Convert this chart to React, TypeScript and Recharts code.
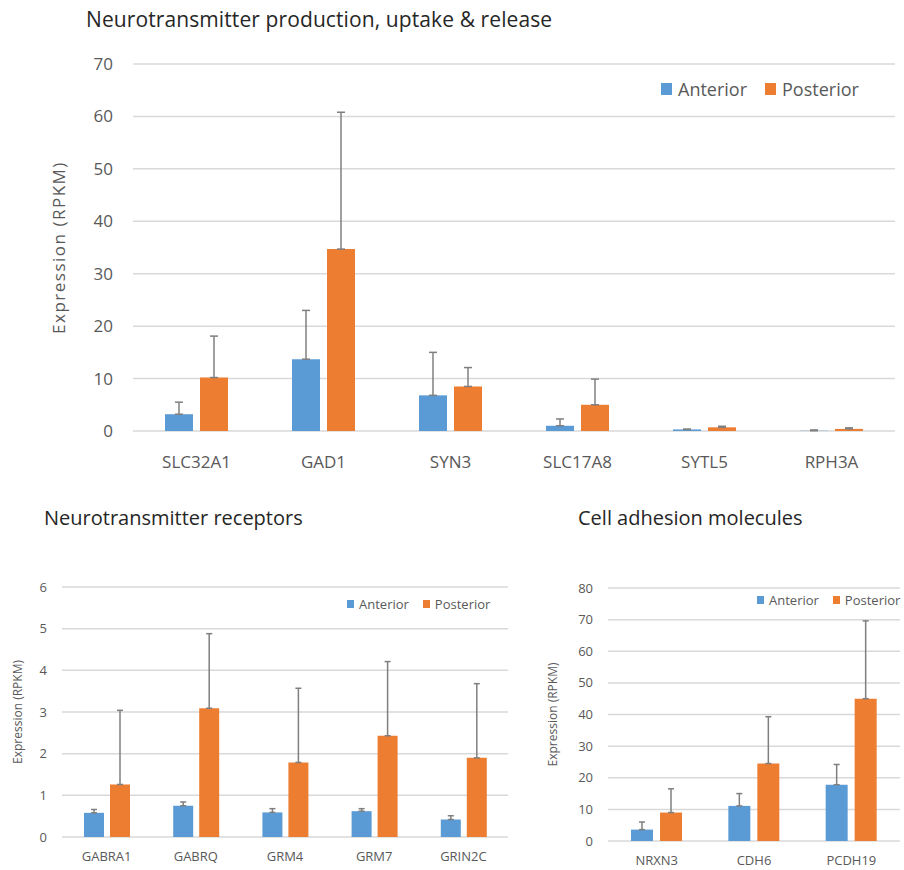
import { Bar, BarChart, CartesianGrid, ErrorBar, Legend, XAxis, YAxis } from "recharts";

// Neurotransmitter production, uptake & release
const topGenes = ["SLC32A1", "GAD1", "SYN3", "SLC17A8", "SYTL5", "RPH3A"];
const topAnterior = [3.2, 13.7, 6.8, 1.0, 0.3, 0.05];
const topAnteriorErr = [2.3, 9.3, 8.2, 1.3, 0.05, 0.15];
const topPosterior = [10.2, 34.7, 8.5, 5.0, 0.7, 0.4];
const topPosteriorErr = [7.9, 26.1, 3.6, 4.9, 0.2, 0.2];
const topTicks = [0, 10, 20, 30, 40, 50, 60, 70];

// Neurotransmitter receptors
const recGenes = ["GABRA1", "GABRQ", "GRM4", "GRM7", "GRIN2C"];
const recAnterior = [0.58, 0.75, 0.59, 0.62, 0.42];
const recAnteriorErr = [0.08, 0.09, 0.09, 0.06, 0.09];
const recPosterior = [1.26, 3.09, 1.79, 2.43, 1.9];
const recPosteriorErr = [1.78, 1.79, 1.78, 1.78, 1.78];
const recTicks = [0, 1, 2, 3, 4, 5, 6];

// Cell adhesion molecules
const adhGenes = ["NRXN3", "CDH6", "PCDH19"];
const adhAnterior = [3.6, 11.1, 17.8];
const adhAnteriorErr = [2.4, 3.9, 6.4];
const adhPosterior = [9.0, 24.5, 45.0];
const adhPosteriorErr = [7.5, 14.8, 24.6];
const adhTicks = [0, 10, 20, 30, 40, 50, 60, 70, 80];

const BLUE = "#5B9BD5";
const ORANGE = "#ED7D31";
const GRID = "#d9d9d9";
const TEXT = "#595959";
const ERR = "#7f7f7f";
const FONT = "'Open Sans', sans-serif";

const build = (genes: string[], a: number[], ae: number[], p: number[], pe: number[]) =>
  genes.map((g, i) => ({ gene: g, anterior: a[i], antErr: [0, ae[i]], posterior: p[i], postErr: [0, pe[i]] }));

const topData = build(topGenes, topAnterior, topAnteriorErr, topPosterior, topPosteriorErr);
const recData = build(recGenes, recAnterior, recAnteriorErr, recPosterior, recPosteriorErr);
const adhData = build(adhGenes, adhAnterior, adhAnteriorErr, adhPosterior, adhPosteriorErr);

const LegendBox = ({ payload, fontSize, mw, mh, gap, itemGap }: any) => (
  <div style={{ display: "flex", whiteSpace: "nowrap", fontFamily: FONT, fontSize, color: TEXT, alignItems: "center" }}>
    {(payload || []).map((p: any, i: number) => (
      <div key={i} style={{ display: "flex", alignItems: "center", marginRight: itemGap }}>
        <span style={{ display: "inline-block", width: mw, height: mh, background: p.color, marginRight: gap }} />
        <span>{p.value}</span>
      </div>
    ))}
  </div>
);

type PanelProps = {
  data: any[];
  width: number;
  height: number;
  margin: any;
  yWidth: number;
  xHeight: number;
  ticks: number[];
  barSize: number;
  barGap: number;
  tickSize: number;
  yTickMargin: number;
  xTickMargin: number;
  labelSize: number;
  labelDx: number;
  labelSpacing: number;
  legend: any;
  errWidth: number;
};

function Panel(props: PanelProps) {
  const { data, ticks, legend } = props;
  return (
    <BarChart
      width={props.width}
      height={props.height}
      data={data}
      margin={props.margin}
      barGap={props.barGap}
      style={{ fontFamily: FONT }}
    >
      <CartesianGrid vertical={false} stroke={GRID} strokeWidth={1.5} />
      <XAxis
        dataKey="gene"
        axisLine={false}
        tickLine={false}
        height={props.xHeight}
        tickMargin={props.xTickMargin}
        tick={{ fill: TEXT, fontSize: props.tickSize }}
        interval={0}
      />
      <YAxis
        domain={[ticks[0], ticks[ticks.length - 1]]}
        ticks={ticks}
        axisLine={false}
        tickLine={false}
        width={props.yWidth}
        tickMargin={props.yTickMargin}
        tick={{ fill: TEXT, fontSize: props.tickSize }}
        label={{
          value: "Expression (RPKM)",
          angle: -90,
          position: "center",
          dx: props.labelDx,
          fill: TEXT,
          fontSize: props.labelSize,
          style: { letterSpacing: props.labelSpacing },
        }}
      />
      <Legend
        layout="horizontal"
        verticalAlign="middle"
        align="center"
        wrapperStyle={{ top: legend.top, left: legend.left, right: "auto", width: "auto", height: "auto" }}
        content={(p: any) => <LegendBox {...p} {...legend} />}
      />
      <Bar dataKey="anterior" name="Anterior" fill={BLUE} barSize={props.barSize} isAnimationActive={false}>
        <ErrorBar dataKey="antErr" width={props.errWidth} stroke={ERR} strokeWidth={1.5} />
      </Bar>
      <Bar dataKey="posterior" name="Posterior" fill={ORANGE} barSize={props.barSize} isAnimationActive={false}>
        <ErrorBar dataKey="postErr" width={props.errWidth} stroke={ERR} strokeWidth={1.5} />
      </Bar>
    </BarChart>
  );
}

const titleStyle = (left: number, top: number, size: number, spacing = 0): any => ({
  position: "absolute",
  left,
  top,
  fontFamily: FONT,
  fontSize: size,
  lineHeight: `${size + 4}px`,
  letterSpacing: spacing,
  color: "#262626",
  whiteSpace: "nowrap",
});

export default function App() {
  return (
    <div style={{ position: "absolute", left: 0, top: 0, width: 904, height: 870, overflow: "hidden", background: "#fff" }}>
      <div style={titleStyle(86, 7, 21, 0.1)}>Neurotransmitter production, uptake &amp; release</div>
      <div style={titleStyle(44, 506, 20)}>Neurotransmitter receptors</div>
      <div style={titleStyle(578, 506, 20)}>Cell adhesion molecules</div>

      <div style={{ position: "absolute", left: 0, top: 0 }}>
        <Panel
          data={topData}
          width={904}
          height={480}
          margin={{ top: 64, right: 9, left: 0, bottom: 0 }}
          yWidth={133}
          xHeight={49}
          ticks={topTicks}
          barSize={28}
          barGap={7}
          tickSize={17}
          yTickMargin={14}
          xTickMargin={19}
          labelSize={17}
          labelDx={-8}
          labelSpacing={1.5}
          errWidth={4}
          legend={{ top: 77, left: 661, fontSize: 18, mw: 11, mh: 12, gap: 6, itemGap: 18 }}
        />
      </div>

      <div style={{ position: "absolute", left: 0, top: 500 }}>
        <Panel
          data={recData}
          width={520}
          height={370}
          margin={{ top: 87, right: 12, left: 0, bottom: 0 }}
          yWidth={62}
          xHeight={33}
          ticks={recTicks}
          barSize={20}
          barGap={6}
          tickSize={13}
          yTickMargin={9}
          xTickMargin={9}
          labelSize={12}
          labelDx={-13}
          labelSpacing={0}
          errWidth={3}
          legend={{ top: 95, left: 347, fontSize: 13, mw: 7, mh: 8, gap: 5, itemGap: 14 }}
        />
      </div>

      <div style={{ position: "absolute", left: 520, top: 500 }}>
        <Panel
          data={adhData}
          width={384}
          height={370}
          margin={{ top: 88, right: 4, left: 0, bottom: 0 }}
          yWidth={88}
          xHeight={29}
          ticks={adhTicks}
          barSize={22}
          barGap={7}
          tickSize={13}
          yTickMargin={9}
          xTickMargin={9}
          labelSize={12}
          labelDx={-11}
          labelSpacing={0}
          errWidth={3}
          legend={{ top: 91, left: 237, fontSize: 13, mw: 7, mh: 8, gap: 5, itemGap: 14 }}
        />
      </div>
    </div>
  );
}
